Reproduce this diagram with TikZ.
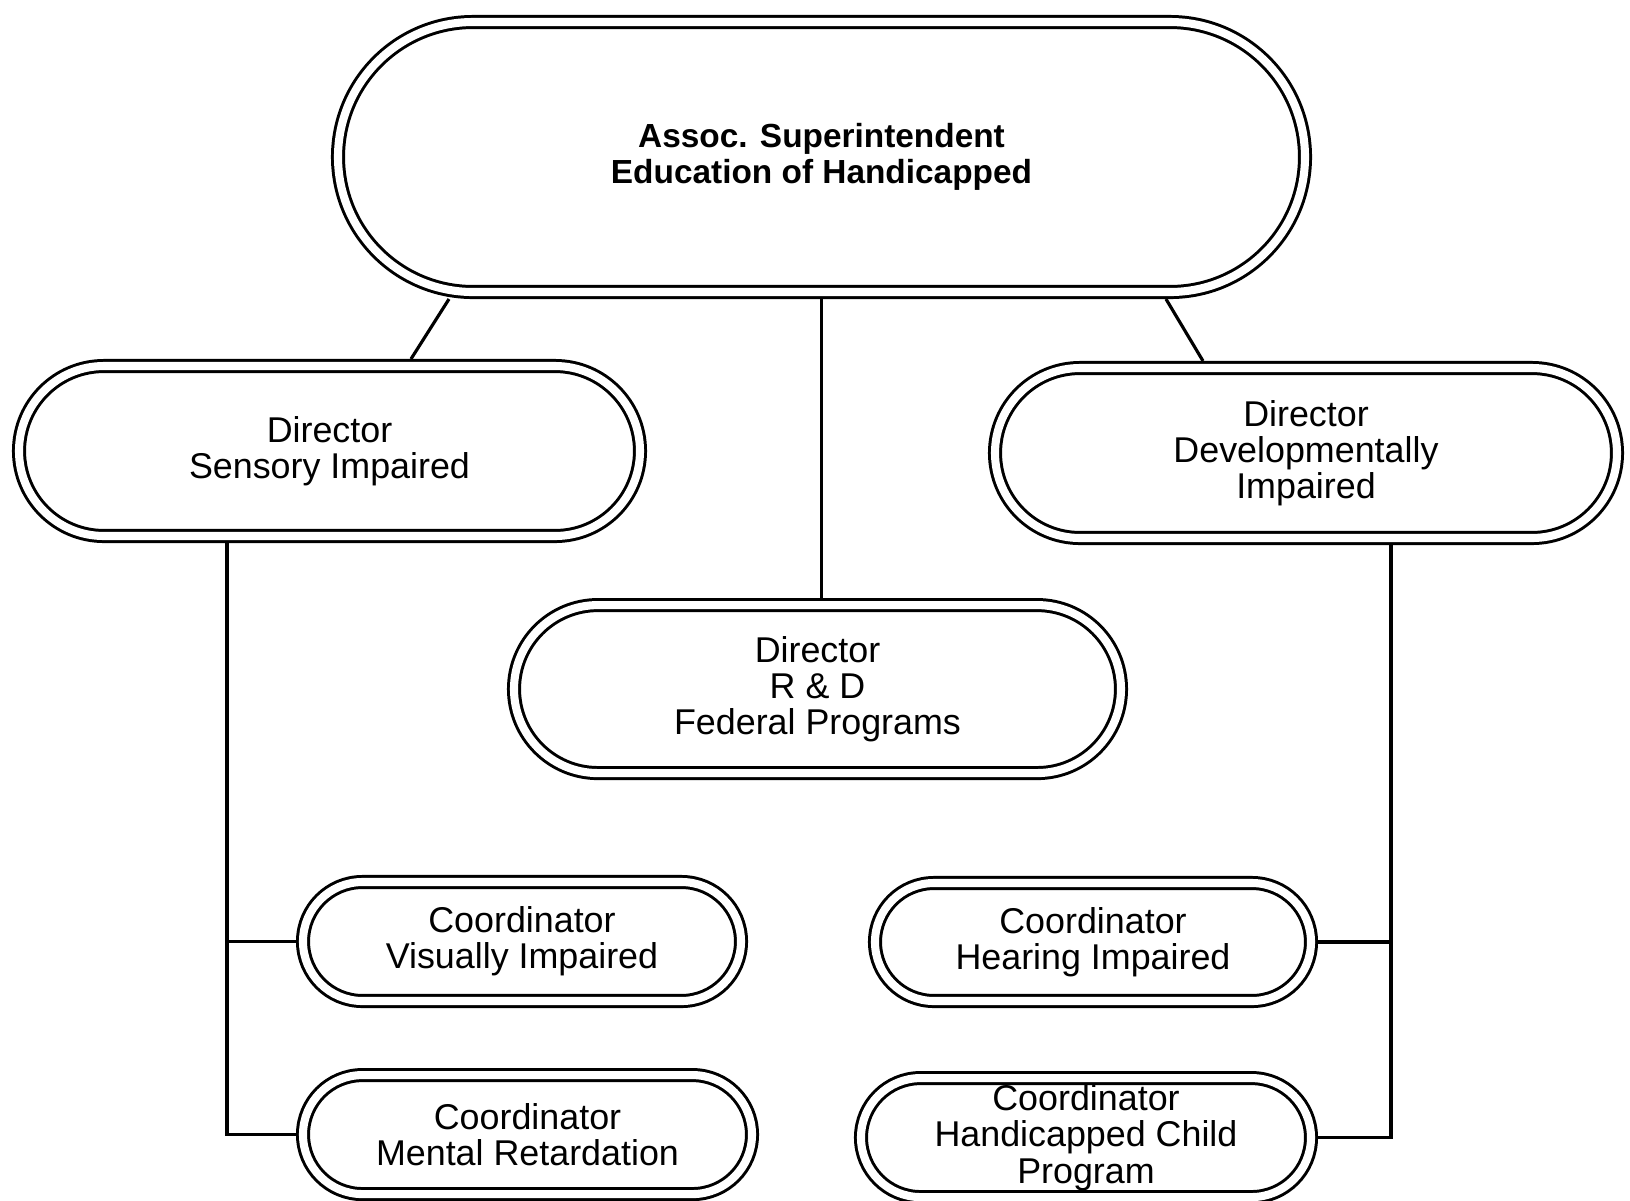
\documentclass[tikz,border=0pt]{standalone}
\usepackage{fontspec}
\setmainfont{Liberation Sans}
\usetikzlibrary{shapes.misc,positioning}

\begin{document}
\begin{tikzpicture}[
    capsule/.style={rounded rectangle, draw, double, line width=0.85pt, double distance=2.3pt, outer sep=2pt, inner sep=0pt, align=center, font=\fontsize{10.2}{10.3}\selectfont},
    line/.style={line width=0.9pt}
]
    \useasboundingbox (0,0) rectangle (16.3,-12);

    % Nodes
    \node[capsule, minimum width=9.67cm, minimum height=2.70cm, font=\bfseries\fontsize{9.5}{10.3}\selectfont] (super) at (8.215,-1.57) {Assoc. Superintendent\\Education of Handicapped};
    \node[capsule, minimum width=6.21cm, minimum height=1.70cm] (sensory) at (3.295,-4.51) {Director\\Sensory Impaired};
    \node[capsule, minimum width=6.22cm, minimum height=1.70cm] (develop) at (13.06,-4.53) {Director\\Developmentally\\Impaired};
    \node[capsule, minimum width=6.07cm, minimum height=1.68cm, below=2.99cm of super, xshift=-0.04cm] (rd) {Director\\R \& D\\Federal Programs};
    \node[capsule, minimum width=4.38cm, minimum height=1.19cm] (visual) at (5.22,-9.415) {Coordinator\\Visually Impaired};
    \node[capsule, minimum width=4.49cm, minimum height=1.19cm, below=0.6cm of visual, xshift=0.055cm] (mental) {Coordinator\\Mental Retardation};
    \node[capsule, minimum width=4.36cm, minimum height=1.18cm] (hearing) at (10.93,-9.42) {Coordinator\\Hearing Impaired};
    \node[capsule, minimum width=4.50cm, minimum height=1.19cm, below=0.63cm of hearing, xshift=-0.07cm] (child) {Coordinator\\Handicapped Child\\Program};

    % Lines
    \coordinate (lefttrunk) at ([xshift=-1.025cm]sensory.south);
    \coordinate (righttrunk) at ([xshift=0.85cm]develop.south);
    \draw[line] ([xshift=-3.725cm]super.south) -- ([xshift=0.815cm]sensory.north);
    \draw[line] ([xshift=3.445cm]super.south) -- ([xshift=-1.03cm]develop.north);
    \draw[line] (super.south) -- (super.south |- rd.north);
    \draw[line] (lefttrunk) |- (mental.west);
    \draw[line] (visual.west) -| (lefttrunk);
    \draw[line] (righttrunk) |- (child.east);
    \draw[line] (hearing.east) -| (righttrunk);
\end{tikzpicture}
\end{document}
